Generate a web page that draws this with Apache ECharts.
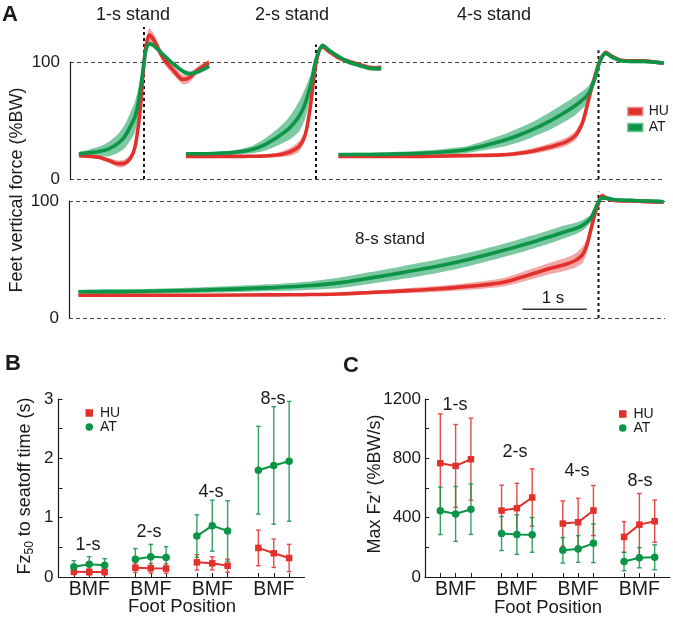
<!DOCTYPE html>
<html><head><meta charset="utf-8">
<script src="https://cdn.jsdelivr.net/npm/echarts@6/dist/echarts.min.js"></script>
<style>html,body{margin:0;padding:0;background:#fff}#c{width:673px;height:621px}</style>
</head><body><div id="c"></div>
<script>
// ---------- Panel A: feet vertical force (%BW), time in s relative to seat-off ----------
const t1 = [-1, -0.85, -0.7, -0.55, -0.4, -0.3, -0.2, -0.14, -0.09, -0.05, -0.02, 0, 0.03, 0.08, 0.15, 0.3, 0.45, 0.6, 0.7, 0.8, 0.9, 1.0];
const hu1Mean = [20, 19.5, 18.6, 16, 13, 13.5, 18.5, 27, 44, 64, 87, 99, 113, 123, 119, 103, 93, 85, 86.5, 92, 96, 99.5];
const hu1Band = [1, 1, 1.5, 2, 3, 3, 3, 3, 3, 3, 3, 3, 4, 6, 5, 4, 4, 4, 4, 3, 3, 2];
const at1Mean = [21.5, 22.5, 23.5, 25.5, 30.5, 36, 46, 53, 64.5, 79, 91, 100, 110, 115.5, 114, 106, 98.5, 92, 90, 91, 93.5, 96.5];
const at1Band = [1.5, 2.5, 4, 6, 8, 10, 12, 13, 12, 9, 6, 3, 2, 2, 2, 2, 2, 2, 2, 2, 2, 2];

const t2 = [-2, -1.75, -1.5, -1.25, -1.0, -0.8, -0.6, -0.45, -0.35, -0.25, -0.17, -0.12, -0.07, -0.03, 0, 0.05, 0.1, 0.2, 0.35, 0.5, 0.65, 0.8, 0.9, 1.0];
const hu2Mean = [19.3, 19.3, 19.3, 19.3, 19.4, 19.6, 20.5, 22.3, 24.5, 28.5, 37, 50, 69, 87, 99, 110, 113, 109, 103.5, 100.5, 98, 95.5, 94.8, 95];
const hu2Band = [1, 1, 1, 1, 1, 1.5, 2, 3, 4, 4.5, 4, 3, 3, 3, 2, 2, 2, 2, 2, 2, 2, 2, 2, 2];
const at2Mean = [21.6, 21.6, 22, 22.8, 25, 29, 35.5, 41.5, 47, 54.5, 64, 73, 83, 95, 102, 110, 114, 110, 104.5, 100, 97.5, 95, 94.5, 94.5];
const at2Band = [1, 1, 1.5, 2, 3, 5, 7, 9, 11, 13, 13, 11, 8, 5, 3, 2, 2, 2, 2, 2, 2, 2, 2, 2];

const t4 = [-4, -3.5, -3, -2.5, -2, -1.5, -1.25, -1.0, -0.75, -0.5, -0.35, -0.25, -0.18, -0.12, -0.06, 0, 0.05, 0.11, 0.2, 0.35, 0.5, 0.7, 0.85, 1.0];
const hu4Mean = [19.2, 19.2, 19.3, 19.5, 20, 20.6, 21.8, 24, 27.3, 31.7, 37.5, 47.5, 61.5, 75, 87, 98, 104, 108, 105, 101.5, 101, 101, 100, 99];
const hu4Band = [1, 1, 1, 1, 1, 1.5, 2, 2.5, 3, 3.5, 4, 4, 4, 4, 3, 2, 2, 2, 2, 1.5, 1.5, 1.5, 1.5, 1.5];
const at4Mean = [21, 21, 21.5, 22.6, 25.5, 32.3, 37, 42.7, 49.5, 57.5, 63, 67.5, 71, 76.5, 85, 97, 104, 107.5, 104.5, 101, 100.5, 100.5, 100, 99];
const at4Band = [1, 1.5, 2, 2.5, 3, 5, 6, 6.5, 7.5, 8, 8, 7.5, 7, 6, 4, 2, 2, 2, 2, 1.5, 1.5, 1.5, 1.5, 1.5];

const t8 = [-8, -7, -6, -5, -4.5, -4, -3.5, -3, -2.5, -2, -1.5, -1.25, -1, -0.75, -0.5, -0.35, -0.25, -0.18, -0.12, -0.06, 0, 0.05, 0.12, 0.25, 0.5, 0.75, 1.0];
const hu8Mean = [19.5, 19.5, 19.5, 19.8, 20, 20.5, 21.8, 23.2, 24.8, 27, 30.2, 33.8, 38, 42.3, 46, 49.4, 53.7, 62, 75, 88, 98, 104.5, 102.5, 100.5, 100, 99.5, 99];
const hu8Band = [1, 1, 1, 1, 1, 1.2, 1.5, 2, 2.5, 3, 3.5, 4, 4.5, 5, 5.5, 6, 7, 6, 5, 4, 3, 2, 2, 1.5, 1.5, 1.5, 1.5];
const at8Mean = [22.4, 22.8, 24, 26, 27.5, 30, 34.3, 39, 44, 50, 57.2, 61, 65.2, 69.4, 74, 76.5, 79, 82, 85, 92, 99.4, 102.5, 102.5, 101, 100.5, 100, 99.4];
const at8Band = [1.5, 2, 2.5, 3, 3.5, 4.5, 5, 5.5, 5.7, 5.7, 5.7, 5.7, 5.7, 5.7, 5.5, 5, 4.5, 4, 3, 2.5, 2, 1.5, 1.5, 1.5, 1.5, 1.5, 1.5];

const standTitles = ['1-s stand', '2-s stand', '4-s stand', '8-s stand'];
const forceTicks = [0, 100];

// ---------- Panels B and C ----------
const groups = ['1-s', '2-s', '4-s', '8-s'];
const footPositions = ['B', 'M', 'F'];
const fz50HUMean = [0.09, 0.085, 0.085, 0.157, 0.147, 0.142, 0.247, 0.23, 0.19, 0.49, 0.40, 0.32];
const fz50HUErr  = [0.05, 0.05, 0.05, 0.08, 0.08, 0.08, 0.13, 0.11, 0.11, 0.30, 0.24, 0.23];
const fz50ATMean = [0.174, 0.213, 0.20, 0.30, 0.34, 0.33, 0.69, 0.865, 0.775, 1.80, 1.88, 1.95];
const fz50ATErr  = [0.10, 0.13, 0.11, 0.18, 0.21, 0.18, 0.36, 0.43, 0.51, 0.74, 0.99, 1.01];
const maxFzHUMean = [767, 749, 794, 448, 464, 536, 360, 369, 448, 270, 353, 376];
const maxFzHUErr  = [333, 279, 277, 171, 168, 193, 153, 162, 169, 104, 210, 142];
const maxFzATMean = [446, 425, 457, 293, 286, 284, 180, 189, 227, 104, 130, 133];
const maxFzATErr  = [160, 185, 170, 115, 133, 117, 86, 90, 130, 62, 68, 84];

// ---------- styling ----------
const FONT = "'Liberation Sans', Arial, Helvetica, sans-serif";
const RED = '#e2312d', GREEN = '#0c9447';
const RED_BAND = 'rgba(234,86,86,0.52)', GREEN_BAND = 'rgba(30,160,95,0.58)';
const RED_ERR = '#e54a46', GREEN_ERR = 'rgba(22,150,75,0.88)';
const INK = '#1a1a1a';

// categories for B/C: gap, B, M, F, gap, ...
const cats = ['gap0'];
groups.forEach((g, gi) => { footPositions.forEach(f => cats.push(g + '|' + f)); cats.push('gap' + (gi + 1)); });
const catIndex = i => 1 + Math.floor(i / 3) * 4 + (i % 3);
function spread(vals) { const a = cats.map(() => '-'); vals.forEach((v, i) => { a[catIndex(i)] = v; }); return a; }
function errData(m, e) { return m.map((v, i) => [catIndex(i), v - e[i], v + e[i]]); }
const midPos = footPositions[1];
const groupLabel = footPositions.join('');

const grids = [
  {left: 70, top: 62, width: 595, height: 117},
  {left: 79, top: 62, width: 130, height: 117},
  {left: 186, top: 62, width: 195, height: 117},
  {left: 338.5, top: 62, width: 325, height: 117},
  {left: 69, top: 201, width: 596, height: 117},
  {left: 78.5, top: 201, width: 585, height: 117},
  {left: 58.5, top: 399, width: 246, height: 178},
  {left: 425, top: 399, width: 247, height: 178}
];

const bgY = gi => ({
  gridIndex: gi, type: 'value', min: forceTicks[0], max: forceTicks[1], interval: 100,
  axisLine: {show: true, lineStyle: {color: INK, width: 1.2}},
  axisTick: {show: false},
  axisLabel: {fontSize: 17, color: INK, margin: 10, fontFamily: FONT},
  splitLine: {show: true, lineStyle: {type: [4, 3], color: '#444', width: 1.2}}
});
const hidY = gi => ({gridIndex: gi, type: 'value', min: 0, max: 100, show: false, splitLine: {show: false}});
const hidX = (gi, mn, mx) => ({gridIndex: gi, type: 'value', min: mn, max: mx, show: false, splitLine: {show: false}});

const catX = gi => ({
  gridIndex: gi, type: 'category', data: cats, boundaryGap: false,
  axisLine: {lineStyle: {color: INK, width: 1.2}},
  axisTick: {inside: true, length: 4, interval: (i, v) => v.indexOf('|') >= 0, lineStyle: {color: INK}},
  axisLabel: {interval: 0, formatter: v => (v.split('|')[1] === midPos ? groupLabel : ''), fontSize: 19.5, color: INK, margin: 3, fontFamily: FONT},
  splitLine: {show: false}
});
const valY = (gi, mx, step, labStep, margin) => ({
  gridIndex: gi, type: 'value', min: 0, max: mx, interval: step,
  axisLine: {show: true, lineStyle: {color: INK, width: 1.2}},
  axisTick: {show: true, inside: true, length: 4, lineStyle: {color: INK}},
  axisLabel: {formatter: v => (Math.abs(v / labStep - Math.round(v / labStep)) < 1e-6 ? String(v) : ''), fontSize: 17, color: INK, margin: margin, fontFamily: FONT},
  splitLine: {show: false}
});

const xAxis = [hidX(0, 0, 1), hidX(1, -1, 1), hidX(2, -2, 1), hidX(3, -4, 1), hidX(4, 0, 1), hidX(5, -8, 1), catX(6), catX(7)];
const yAxis = [bgY(0), hidY(1), hidY(2), hidY(3), bgY(4), hidY(5), valY(6, 3, 0.5, 1, 5), valY(7, 1200, 200, 400, 4)];

const series = [];
function bandPoly(name, t, mean, band, ax, color) {
  series.push({type: 'custom', name: name + ' band', xAxisIndex: ax, yAxisIndex: ax, silent: true, clip: false,
    data: t.map((x, i) => [x, mean[i] - band[i], mean[i] + band[i]]),
    encode: {x: 0, y: [1, 2]},
    renderItem: (params, api) => {
      if (params.dataIndex !== 0) return null;
      const up = t.map((x, i) => api.coord([x, mean[i] + band[i]]));
      const lo = t.map((x, i) => api.coord([x, mean[i] - band[i]])).reverse();
      return {type: 'polygon', shape: {points: up.concat(lo), smooth: 0.25}, style: {fill: color}};
    }});
}
function meanLine(name, t, mean, ax, color) {
  series.push({type: 'line', name: name, xAxisIndex: ax, yAxisIndex: ax, clip: false, silent: true,
    data: t.map((x, i) => [x, mean[i]]), symbol: 'none', smooth: 0.3,
    lineStyle: {color: color, width: 3.6}, itemStyle: {color: color}});
}
function seatoff(ax, top) {
  series.push({type: 'line', name: 'seatoff' + ax, xAxisIndex: ax, yAxisIndex: ax, clip: false, silent: true,
    data: [[0, 0], [0, top]], symbol: 'none', lineStyle: {color: '#111', width: 2, type: [3, 3]}});
}
const segs = [
  {ax: 1, t: t1, hm: hu1Mean, hb: hu1Band, am: at1Mean, ab: at1Band, top: 130},
  {ax: 2, t: t2, hm: hu2Mean, hb: hu2Band, am: at2Mean, ab: at2Band, top: 115},
  {ax: 3, t: t4, hm: hu4Mean, hb: hu4Band, am: at4Mean, ab: at4Band, top: 110},
  {ax: 5, t: t8, hm: hu8Mean, hb: hu8Band, am: at8Mean, ab: at8Band, top: 108}
];
segs.forEach(s => {
  seatoff(s.ax, s.top);
  bandPoly('HU', s.t, s.hm, s.hb, s.ax, RED_BAND);
  bandPoly('AT', s.t, s.am, s.ab, s.ax, GREEN_BAND);
  meanLine('HU', s.t, s.hm, s.ax, RED);
  meanLine('AT', s.t, s.am, s.ax, GREEN);
});
// 1 s scale bar
series.push({type: 'line', name: 'scalebar', xAxisIndex: 5, yAxisIndex: 5, silent: true, clip: false,
  data: [[-1.17, 7.5], [-0.18, 7.5]], symbol: 'none', lineStyle: {color: '#333', width: 1.5}});

function errRender(color) {
  return function (params, api) {
    const x = api.value(0);
    const a = api.coord([x, api.value(1)]), b = api.coord([x, api.value(2)]);
    const c = 2.3, st = {stroke: color, lineWidth: 1.4};
    return {type: 'group', children: [
      {type: 'line', shape: {x1: a[0], y1: a[1], x2: b[0], y2: b[1]}, style: st},
      {type: 'line', shape: {x1: a[0] - c, y1: a[1], x2: a[0] + c, y2: a[1]}, style: st},
      {type: 'line', shape: {x1: b[0] - c, y1: b[1], x2: b[0] + c, y2: b[1]}, style: st}
    ]};
  };
}
function dotPanel(ax, huM, huE, atM, atE) {
  series.push({type: 'custom', name: 'HU err', xAxisIndex: ax, yAxisIndex: ax, silent: true,
    renderItem: errRender(RED_ERR), encode: {x: 0, y: [1, 2]}, data: errData(huM, huE)});
  series.push({type: 'line', name: 'HU', xAxisIndex: ax, yAxisIndex: ax, silent: true, data: spread(huM),
    symbol: 'rect', symbolSize: 6.5, connectNulls: false, lineStyle: {color: RED, width: 2}, itemStyle: {color: RED}});
  series.push({type: 'custom', name: 'AT err', xAxisIndex: ax, yAxisIndex: ax, silent: true,
    renderItem: errRender(GREEN_ERR), encode: {x: 0, y: [1, 2]}, data: errData(atM, atE)});
  series.push({type: 'line', name: 'AT', xAxisIndex: ax, yAxisIndex: ax, silent: true, data: spread(atM),
    symbol: 'circle', symbolSize: 7.5, connectNulls: false, lineStyle: {color: GREEN, width: 2}, itemStyle: {color: GREEN}});
}
dotPanel(6, fz50HUMean, fz50HUErr, fz50ATMean, fz50ATErr);
dotPanel(7, maxFzHUMean, maxFzHUErr, maxFzATMean, maxFzATErr);

const txt = (x, y, text, size, extra) => Object.assign({type: 'text', x: x, y: y, silent: true,
  style: {text: text, fontSize: size, fontFamily: FONT, fill: INK, textAlign: 'center', textVerticalAlign: 'middle'}}, extra || {});
const bold = (x, y, text) => ({type: 'text', x: x, y: y, silent: true,
  style: {text: text, fontSize: 22, fontWeight: 'bold', fontFamily: FONT, fill: INK, textAlign: 'left', textVerticalAlign: 'middle'}});

const graphic = [
  bold(2, 15, 'A'), bold(5, 364, 'B'), bold(343, 366, 'C'),
  txt(133, 15, standTitles[0], 18), txt(292, 15, standTitles[1], 18), txt(494, 15, standTitles[2], 18),
  txt(390, 239, standTitles[3], 17),
  txt(553, 298, '1 s', 17),
  txt(17, 190, 'Feet vertical force (%BW)', 18, {rotation: Math.PI / 2}),
  txt(88, 545, groups[0], 18), txt(149, 532, groups[1], 18), txt(211, 492, groups[2], 18), txt(273, 399, groups[3], 18),
  txt(455, 405, groups[0], 18), txt(515, 452, groups[1], 18), txt(577, 471, groups[2], 18), txt(640, 481, groups[3], 18),
  txt(182, 607, 'Foot Position', 18.5), txt(548, 608, 'Foot Position', 18.5),
  {type: 'text', x: 25, y: 486, rotation: Math.PI / 2, silent: true,
    style: {text: '{a|Fz}{s|50}{a| to seatoff time (s)}', fontFamily: FONT, fill: INK, textAlign: 'center', textVerticalAlign: 'middle',
      rich: {a: {fontSize: 18, fontFamily: FONT, fill: INK, lineHeight: 22, verticalAlign: 'middle'},
             s: {fontSize: 12, fontFamily: FONT, fill: INK, lineHeight: 12, verticalAlign: 'bottom'}}}},
  txt(375, 484, 'Max Fz\u2019 (%BW/s)', 18, {rotation: Math.PI / 2})
];

const legText = {fontSize: 14, color: INK, fontFamily: FONT, lineHeight: 14, padding: [0, 0, 0, 1]};
const option = {
  animation: false,
  backgroundColor: '#fff',
  textStyle: {fontFamily: FONT},
  grid: grids,
  xAxis: xAxis,
  yAxis: yAxis,
  legend: [
    {left: 622, top: 99.5, orient: 'vertical', itemWidth: 15, itemHeight: 8, itemGap: 2, selectedMode: false, textStyle: legText,
      data: [{name: 'HU', icon: 'rect', itemStyle: {color: RED, borderColor: '#f08c8c', borderWidth: 1.5}},
             {name: 'AT', icon: 'rect', itemStyle: {color: GREEN, borderColor: '#6cc596', borderWidth: 1.5}}]},
    {left: 80.5, top: 401, orient: 'vertical', itemWidth: 7.5, itemHeight: 7.5, itemGap: 0, selectedMode: false,
      textStyle: Object.assign({}, legText, {lineHeight: 13.5, padding: [0, 0, 0, 2]}),
      data: [{name: 'HU', icon: 'rect', itemStyle: {color: RED}}, {name: 'AT', icon: 'circle', itemStyle: {color: GREEN}}]},
    {left: 614, top: 402, orient: 'vertical', itemWidth: 7.5, itemHeight: 7.5, itemGap: 0, selectedMode: false,
      textStyle: Object.assign({}, legText, {lineHeight: 13.5, padding: [0, 0, 0, 2]}),
      data: [{name: 'HU', icon: 'rect', itemStyle: {color: RED}}, {name: 'AT', icon: 'circle', itemStyle: {color: GREEN}}]}
  ],
  graphic: graphic,
  series: series
};
const chart = echarts.init(document.getElementById('c'), null, {renderer: 'canvas'});
chart.setOption(option);
</script>
</body></html>
